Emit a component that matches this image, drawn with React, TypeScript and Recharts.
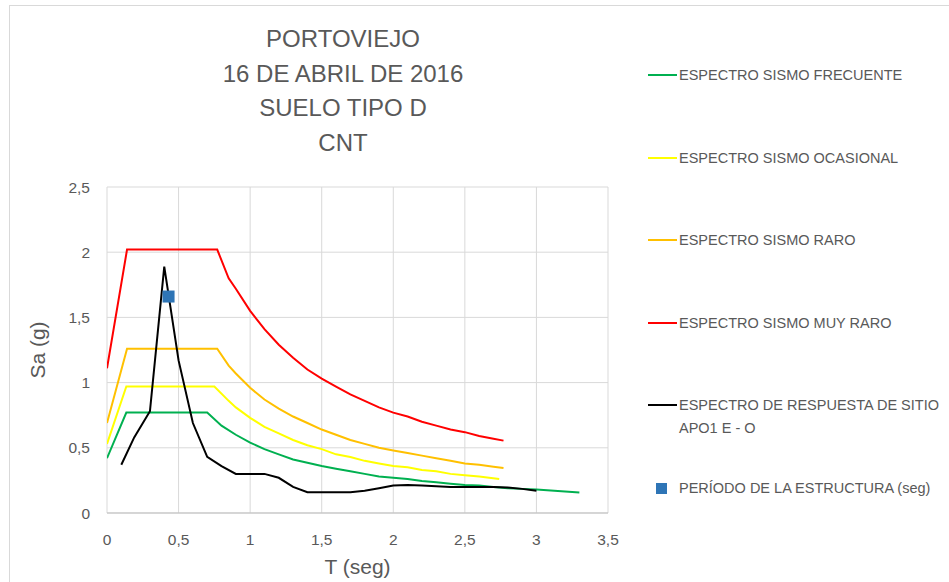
import React from "react";
import {
  ComposedChart,
  Line,
  Scatter,
  XAxis,
  YAxis,
  CartesianGrid,
  Label,
} from "recharts";

const titleLines = ["PORTOVIEJO", "16 DE ABRIL DE 2016", "SUELO TIPO D", "CNT"];

const xTicks = [0, 0.5, 1, 1.5, 2, 2.5, 3, 3.5];
const yTicks = [0, 0.5, 1, 1.5, 2, 2.5];

// periodo T (seg)
const tFrecuente = [0, 0.135, 0.7, 0.8, 0.9, 1.0, 1.1, 1.2, 1.3, 1.4, 1.5, 1.6, 1.7, 1.8, 1.9, 2.0, 2.1, 2.2, 2.3, 2.4, 2.5, 2.6, 2.7, 2.8, 2.9, 3.0, 3.1, 3.2, 3.3];
const saFrecuente = [0.42, 0.77, 0.77, 0.67, 0.6, 0.54, 0.49, 0.45, 0.41, 0.385, 0.36, 0.34, 0.32, 0.3, 0.28, 0.27, 0.26, 0.245, 0.235, 0.225, 0.215, 0.21, 0.2, 0.19, 0.185, 0.18, 0.172, 0.165, 0.158];

const tOcasional = [0, 0.135, 0.75, 0.85, 0.9, 1.0, 1.1, 1.2, 1.3, 1.4, 1.5, 1.6, 1.7, 1.8, 1.9, 2.0, 2.1, 2.2, 2.3, 2.4, 2.5, 2.6, 2.74];
const saOcasional = [0.53, 0.97, 0.97, 0.86, 0.81, 0.73, 0.66, 0.61, 0.56, 0.52, 0.49, 0.45, 0.43, 0.4, 0.38, 0.36, 0.35, 0.33, 0.32, 0.3, 0.29, 0.28, 0.26];

const tRaro = [0, 0.14, 0.77, 0.85, 0.9, 1.0, 1.1, 1.2, 1.3, 1.4, 1.5, 1.6, 1.7, 1.8, 1.9, 2.0, 2.1, 2.2, 2.3, 2.4, 2.5, 2.6, 2.7, 2.77];
const saRaro = [0.69, 1.26, 1.26, 1.13, 1.07, 0.96, 0.87, 0.8, 0.74, 0.69, 0.64, 0.6, 0.56, 0.53, 0.5, 0.48, 0.46, 0.44, 0.42, 0.4, 0.38, 0.37, 0.355, 0.345];

const tMuyRaro = [0, 0.14, 0.77, 0.85, 0.9, 1.0, 1.1, 1.2, 1.3, 1.4, 1.5, 1.6, 1.7, 1.8, 1.9, 2.0, 2.1, 2.2, 2.3, 2.4, 2.5, 2.6, 2.7, 2.77];
const saMuyRaro = [1.11, 2.02, 2.02, 1.8, 1.72, 1.55, 1.41, 1.29, 1.19, 1.1, 1.03, 0.97, 0.91, 0.86, 0.81, 0.77, 0.74, 0.7, 0.67, 0.64, 0.62, 0.59, 0.57, 0.555];

const tSitio = [0.1, 0.19, 0.3, 0.4, 0.5, 0.6, 0.7, 0.8, 0.9, 1.0, 1.1, 1.2, 1.3, 1.4, 1.5, 1.6, 1.7, 1.8, 1.9, 2.0, 2.1, 2.2, 2.3, 2.4, 2.5, 2.6, 2.7, 2.8, 2.9, 3.0];
const saSitio = [0.37, 0.58, 0.78, 1.89, 1.17, 0.69, 0.43, 0.36, 0.3, 0.3, 0.3, 0.27, 0.2, 0.16, 0.16, 0.16, 0.16, 0.17, 0.19, 0.21, 0.215, 0.21, 0.205, 0.2, 0.2, 0.2, 0.2, 0.195, 0.185, 0.17];

const tEstructura = [0.43];
const saEstructura = [1.66];

const toPoints = (t: number[], sa: number[]) =>
  t.map((T, i) => ({ T, Sa: sa[i] }));

const lineSeries = [
  { name: "ESPECTRO SISMO FRECUENTE", color: "#00b050", data: toPoints(tFrecuente, saFrecuente) },
  { name: "ESPECTRO SISMO OCASIONAL", color: "#ffff00", data: toPoints(tOcasional, saOcasional) },
  { name: "ESPECTRO SISMO RARO", color: "#ffc000", data: toPoints(tRaro, saRaro) },
  { name: "ESPECTRO SISMO MUY RARO", color: "#ff0000", data: toPoints(tMuyRaro, saMuyRaro) },
  { name: "ESPECTRO DE RESPUESTA DE SITIO\nAPO1 E - O", color: "#000000", data: toPoints(tSitio, saSitio) },
];

const markerName = "PERÍODO DE LA ESTRUCTURA (seg)";
const markerColor = "#2e75b6";
const markerData = toPoints(tEstructura, saEstructura);

const FONT = "'Liberation Sans', Arial, sans-serif";
const TEXT = "#595959";

const fmt = (v: number) => String(v).replace(".", ",");

const Square = (props: any) => (
  <rect x={props.cx - 6} y={props.cy - 6} width={12} height={12} fill={markerColor} />
);

export default function App() {
  return (
    <div
      style={{
        position: "absolute",
        left: 0,
        top: 0,
        width: 949,
        height: 582,
        overflow: "hidden",
        background: "#fff",
        fontFamily: FONT,
      }}
    >
      <div
        style={{
          position: "absolute",
          left: 9,
          top: 5,
          width: 940,
          height: 577,
          borderTop: "1px solid #d9d9d9",
          borderLeft: "1px solid #d9d9d9",
        }}
      />
      {titleLines.map((line, i) => (
        <div
          key={line}
          style={{
            position: "absolute",
            left: 143,
            width: 400,
            top: 39 + i * 34.5 - 14,
            height: 28,
            lineHeight: "28px",
            textAlign: "center",
            fontSize: 24,
            color: TEXT,
          }}
        >
          {line}
        </div>
      ))}

      <ComposedChart
        width={949}
        height={582}
        margin={{ top: 187, right: 341, bottom: 39, left: 47 }}
        style={{ position: "absolute", left: 0, top: 0, fontFamily: FONT }}
      >
        <CartesianGrid stroke="#d9d9d9" />
        <XAxis
          dataKey="T"
          type="number"
          domain={[0, 3.5]}
          ticks={xTicks}
          tickFormatter={fmt}
          height={30}
          stroke="#bfbfbf"
          tickLine={false}
          tickSize={0}
          tickMargin={21}
          tick={{ fill: TEXT, fontSize: 15.5, fontFamily: FONT }}
          allowDataOverflow
        >
          <Label
            value="T (seg)"
            position="center"
            dy={39}
            style={{ fill: TEXT, fontSize: 21, fontFamily: FONT }}
          />
        </XAxis>
        <YAxis
          dataKey="Sa"
          type="number"
          domain={[0, 2.5]}
          ticks={yTicks}
          tickFormatter={fmt}
          width={60}
          axisLine={false}
          tickLine={false}
          tickSize={0}
          tickMargin={17}
          tick={{ fill: TEXT, fontSize: 15.5, fontFamily: FONT }}
          allowDataOverflow
        >
          <Label
            value="Sa (g)"
            position="center"
            angle={-90}
            dx={-39}
            style={{ fill: TEXT, fontSize: 21, fontFamily: FONT, textAnchor: "middle" }}
          />
        </YAxis>
        {lineSeries.map((s) => (
          <Line
            key={s.name}
            data={s.data}
            dataKey="Sa"
            name={s.name}
            type="linear"
            stroke={s.color}
            strokeWidth={2}
            dot={false}
            activeDot={false}
            isAnimationActive={false}
          />
        ))}
        <Scatter
          data={markerData}
          dataKey="Sa"
          name={markerName}
          fill={markerColor}
          shape={Square}
          isAnimationActive={false}
        />
      </ComposedChart>

      {[...lineSeries.map((s) => ({ name: s.name, color: s.color, kind: "line" })),
        { name: markerName, color: markerColor, kind: "square" }].map((item, i) => {
        const cy = 75 + i * 82.6;
        return (
          <div
            key={item.name}
            style={{ position: "absolute", left: 648, top: cy - 10, width: 300 }}
          >
            {item.kind === "line" ? (
              <div
                style={{
                  position: "absolute",
                  left: 0,
                  top: 9,
                  width: 29,
                  height: 2,
                  background: item.color,
                }}
              />
            ) : (
              <div
                style={{
                  position: "absolute",
                  left: 8,
                  top: 4.5,
                  width: 11,
                  height: 11,
                  background: item.color,
                }}
              />
            )}
            <div
              style={{
                position: "absolute",
                left: 31,
                top: 0,
                lineHeight: "22.5px",
                marginTop: -1,
                fontSize: 14.5,
                color: TEXT,
                whiteSpace: "pre-line",
              }}
            >
              {item.name}
            </div>
          </div>
        );
      })}
    </div>
  );
}
